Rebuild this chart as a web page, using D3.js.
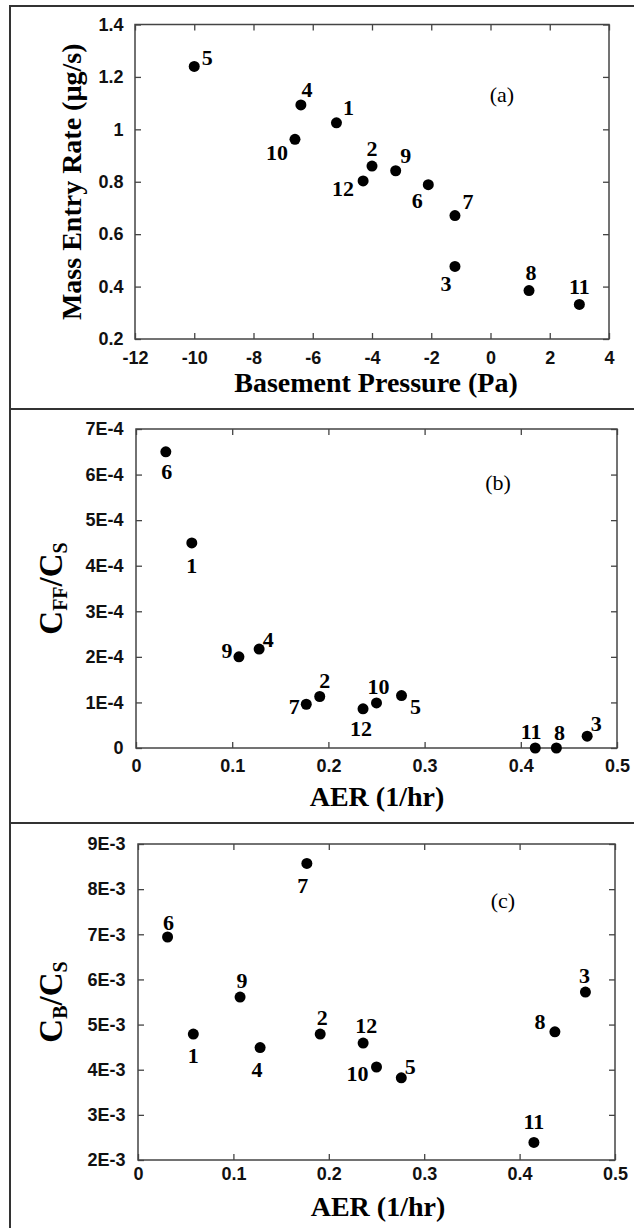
<!DOCTYPE html>
<html>
<head>
<meta charset="utf-8">
<script src="https://cdn.jsdelivr.net/npm/d3@7"></script>
<style>
  body { margin: 0; background: #fff; }
  svg { display: block; }
</style>
</head>
<body>
<svg id="fig" width="634" height="1228"></svg>
<script>
// ---- Data: one entry per sampling event (house 1..12) ----
const sampleIds        = [1, 2, 3, 4, 5, 6, 7, 8, 9, 10, 11, 12];
const basementPressure = [-5.2, -4.0, -1.2, -6.4, -10.0, -2.1, -1.2, 1.3, -3.2, -6.6, 3.0, -4.3];   // Pa
const massEntryRate    = [1.025, 0.86, 0.477, 1.093, 1.24, 0.789, 0.671, 0.385, 0.842, 0.962, 0.332, 0.803]; // µg/s
const airExchangeRate  = [0.058, 0.191, 0.469, 0.128, 0.276, 0.031, 0.177, 0.437, 0.107, 0.250, 0.415, 0.236]; // 1/hr
const cffOverCs        = [4.5e-4, 1.13e-4, 0.26e-4, 2.17e-4, 1.15e-4, 6.5e-4, 0.96e-4, 0, 2.0e-4, 0.99e-4, 0, 0.86e-4];
const cbOverCs         = [4.79e-3, 4.79e-3, 5.72e-3, 4.49e-3, 3.82e-3, 6.94e-3, 8.57e-3, 4.84e-3, 5.61e-3, 4.06e-3, 2.39e-3, 4.59e-3];

// ---- Tick values and labels ----
const pressureTicks  = [-12, -10, -8, -6, -4, -2, 0, 2, 4];
const pressureLabels = ["-12", "-10", "-8", "-6", "-4", "-2", "0", "2", "4"];
const rateTicks      = [0.2, 0.4, 0.6, 0.8, 1.0, 1.2, 1.4];
const rateLabels     = ["0.2", "0.4", "0.6", "0.8", "1", "1.2", "1.4"];
const aerTicks       = [0, 0.1, 0.2, 0.3, 0.4, 0.5];
const aerLabels      = ["0", "0.1", "0.2", "0.3", "0.4", "0.5"];
const cffTicks       = [0, 1e-4, 2e-4, 3e-4, 4e-4, 5e-4, 6e-4, 7e-4];
const cffLabels      = ["0", "1E-4", "2E-4", "3E-4", "4E-4", "5E-4", "6E-4", "7E-4"];
const cbTicks        = [2e-3, 3e-3, 4e-3, 5e-3, 6e-3, 7e-3, 8e-3, 9e-3];
const cbLabels       = ["2E-3", "3E-3", "4E-3", "5E-3", "6E-3", "7E-3", "8E-3", "9E-3"];

// ---- Layout: label offsets (dx, dy) of each sample number from its dot ----
const labelOffsetsA = [[12,-15],[0,-18],[-9,17],[6,-16],[13,-9],[-11,16],[13,-14],[2,-18],[10,-15],[-18,13],[0,-18],[-20,7]];
const labelOffsetsB = [[0,22],[5,-16],[9,-13],[9,-10],[14,11],[1,20],[-12,2],[3,-16],[-12,-7],[2,-17],[-4,-17],[-2,19]];
const labelOffsetsC = [[0,21],[2,-17],[-1,-17],[-3,22],[9,-12],[1,-15],[-4,22],[-15,-10],[2,-17],[-19,6],[0,-21],[3,-18]];

const SANS  = "'Liberation Sans', Arial, Helvetica, sans-serif";
const SERIF = "'Liberation Serif', 'Times New Roman', Times, serif";

const svg = d3.select("#fig");

// Outer figure border and panel separators
const border = svg.append("g").attr("stroke", "#333").attr("stroke-width", 2).attr("fill", "none");
border.append("line").attr("x1", 10).attr("x2", 634).attr("y1", 6).attr("y2", 6);
border.append("line").attr("x1", 10).attr("x2", 10).attr("y1", 5).attr("y2", 1228);
border.append("line").attr("x1", 10).attr("x2", 634).attr("y1", 409).attr("y2", 409);
border.append("line").attr("x1", 10).attr("x2", 634).attr("y1", 823).attr("y2", 823);

const panels = [
  {
    box: {left: 135, right: 609, top: 24.5, bottom: 339},
    xs: basementPressure, ys: massEntryRate,
    xDomain: [-12, 4], yDomain: [0.2, 1.4],
    xTicks: pressureTicks, xLabels: pressureLabels,
    yTicks: rateTicks, yLabels: rateLabels,
    offsets: labelOffsetsA,
    letter: "(a)", letterPos: [502, 94],
    xTitle: "Basement Pressure (Pa)", xTitleX: 376, xTitleY: 392,
    yTitle: "rate", yTitleX: 81, xLabelPad: 12, yLabelPad: 11.5
  },
  {
    box: {left: 136, right: 617, top: 429, bottom: 748},
    xs: airExchangeRate, ys: cffOverCs,
    xDomain: [0, 0.5], yDomain: [0, 7e-4],
    xTicks: aerTicks, xLabels: aerLabels,
    yTicks: cffTicks, yLabels: cffLabels,
    offsets: labelOffsetsB,
    letter: "(b)", letterPos: [498, 482],
    xTitle: "AER (1/hr)", xTitleX: 377, xTitleY: 806,
    yTitle: "cff", yTitleX: 62, xLabelPad: 11, yLabelPad: 12.5
  },
  {
    box: {left: 138, right: 615, top: 844, bottom: 1160},
    xs: airExchangeRate, ys: cbOverCs,
    xDomain: [0, 0.5], yDomain: [2e-3, 9e-3],
    xTicks: aerTicks, xLabels: aerLabels,
    yTicks: cbTicks, yLabels: cbLabels,
    offsets: labelOffsetsC,
    letter: "(c)", letterPos: [503, 900],
    xTitle: "AER (1/hr)", xTitleX: 378, xTitleY: 1216,
    yTitle: "cb", yTitleX: 62, xLabelPad: 7, yLabelPad: 12.5
  }
];

function styleAxis(g) {
  g.select(".domain").remove();
  g.selectAll(".tick line").attr("stroke", "#444").attr("stroke-width", 1.3);
  g.selectAll(".tick text")
    .attr("font-family", SANS).attr("font-weight", "bold")
    .attr("font-size", 18).attr("fill", "#111");
}

panels.forEach(p => {
  const b = p.box;
  const x = d3.scaleLinear().domain(p.xDomain).range([b.left, b.right]);
  const y = d3.scaleLinear().domain(p.yDomain).range([b.bottom, b.top]);
  const g = svg.append("g");

  const xFmt = d => p.xLabels[p.xTicks.indexOf(d)];
  const yFmt = d => p.yLabels[p.yTicks.indexOf(d)];

  // Bottom axis with labels, ticks pointing into the plot
  g.append("g").attr("transform", `translate(0,${b.bottom})`)
    .call(d3.axisBottom(x).tickValues(p.xTicks).tickFormat(xFmt).tickSizeInner(-6).tickSizeOuter(0).tickPadding(p.xLabelPad))
    .call(styleAxis);
  // Top axis: ticks only
  g.append("g").attr("transform", `translate(0,${b.top})`)
    .call(d3.axisTop(x).tickValues(p.xTicks).tickFormat("").tickSizeInner(-6).tickSizeOuter(0))
    .call(styleAxis);
  // Left axis with labels
  g.append("g").attr("transform", `translate(${b.left},0)`)
    .call(d3.axisLeft(y).tickValues(p.yTicks).tickFormat(yFmt).tickSizeInner(-6).tickSizeOuter(0).tickPadding(p.yLabelPad))
    .call(styleAxis);
  // Right axis: ticks only
  g.append("g").attr("transform", `translate(${b.right},0)`)
    .call(d3.axisRight(y).tickValues(p.yTicks).tickFormat("").tickSizeInner(-6).tickSizeOuter(0))
    .call(styleAxis);

  // Plot frame
  g.append("rect")
    .attr("x", b.left).attr("y", b.top)
    .attr("width", b.right - b.left).attr("height", b.bottom - b.top)
    .attr("fill", "none").attr("stroke", "#444").attr("stroke-width", 1.5);

  // Data points
  g.append("g").selectAll("circle")
    .data(sampleIds)
    .join("circle")
    .attr("cx", (d, i) => x(p.xs[i]))
    .attr("cy", (d, i) => y(p.ys[i]))
    .attr("r", 5.5)
    .attr("fill", "#000");

  // Sample numbers next to the dots
  g.append("g").selectAll("text")
    .data(sampleIds)
    .join("text")
    .attr("x", (d, i) => x(p.xs[i]) + p.offsets[i][0])
    .attr("y", (d, i) => y(p.ys[i]) + p.offsets[i][1])
    .attr("dy", "0.35em")
    .attr("text-anchor", "middle")
    .attr("font-family", SERIF).attr("font-weight", "bold")
    .attr("font-size", 22).attr("fill", "#000")
    .text(d => d);

  // Panel letter
  g.append("text")
    .attr("x", p.letterPos[0]).attr("y", p.letterPos[1])
    .attr("dy", "0.35em").attr("text-anchor", "middle")
    .attr("font-family", SERIF).attr("font-size", 22).attr("fill", "#000")
    .text(p.letter);

  // X axis title
  g.append("text")
    .attr("x", p.xTitleX).attr("y", p.xTitleY)
    .attr("text-anchor", "middle")
    .attr("font-family", SERIF).attr("font-weight", "bold")
    .attr("font-size", 28).attr("fill", "#000")
    .text(p.xTitle);

  // Y axis title (rotated)
  const cy = (b.top + b.bottom) / 2;
  const yt = g.append("text")
    .attr("transform", `translate(${p.yTitleX},${cy}) rotate(-90)`)
    .attr("text-anchor", "middle")
    .attr("font-family", SERIF).attr("font-weight", "bold")
    .attr("fill", "#000");
  if (p.yTitle === "rate") {
    yt.attr("font-size", 28).text("Mass Entry Rate (\u00b5g/s)");
  } else {
    const sub = p.yTitle === "cff" ? "FF" : "B";
    yt.append("tspan").attr("font-size", 33).text("C");
    yt.append("tspan").attr("font-size", 20).attr("dy", 5).text(sub);
    yt.append("tspan").attr("font-size", 33).attr("dy", -5).text("/C");
    yt.append("tspan").attr("font-size", 20).attr("dy", 5).text("S");
  }
});
</script>
</body>
</html>
